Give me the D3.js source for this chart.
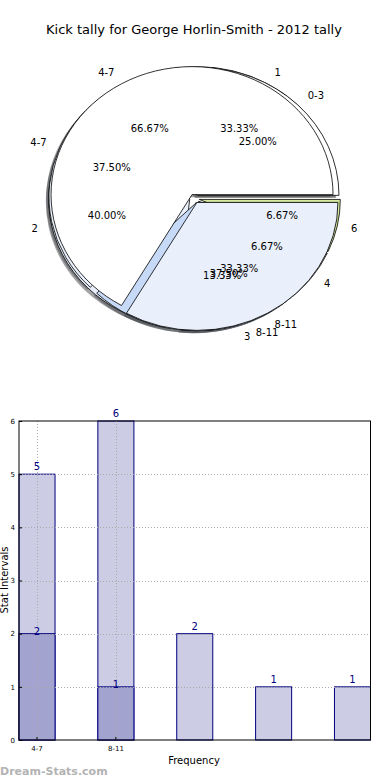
<!doctype html>
<html>
<head>
<meta charset="utf-8">
<script src="https://d3js.org/d3.v7.min.js"></script>
<style>
body {margin: 0; background: #fff;}
svg {display: block; font-family: "DejaVu Sans", sans-serif;}
</style>
</head>
<body>
<svg width="390" height="780" id="chart"></svg>
<script>
// pie data (three tallies drawn on top of each other)
var pieLabelsA = ["4-7", "8-11"];
var pieValuesA = [2, 1];
var pieLabelsB = ["1", "2", "3", "4", "6"];
var pieValuesB = [5, 6, 2, 1, 1];
var pieLabelsC = ["0-3", "4-7", "8-11"];
var pieValuesC = [2, 3, 3];
var sliceColors = ["#ffffff", "#eaf0fb", "#c6d9f7", "#f3e3c3", "#d4e89e"];

// bar data
var barTickLabels = ["4-7", "8-11", "", "", ""];
var barTotals = [5, 6, 2, 1, 1];
var barSubset = [2, 1];
var yTicks = [0, 1, 2, 3, 4, 5, 6];

var svg = d3.select("#chart");

svg.append("text")
  .attr("x", 194).attr("y", 34)
  .attr("text-anchor", "middle")
  .style("font-size", "13px")
  .text("Kick tally for George Horlin-Smith - 2012 tally");

/////////////////////////////////////////// pie
var cx = 194.5, cy = 198.5, rx = 141, ry = 128, explode = 0.035;

var pie = d3.pie().sort(null).startAngle(Math.PI / 2).endAngle(Math.PI / 2 - 2 * Math.PI);
var arc = d3.arc().innerRadius(0).outerRadius(rx);

function slices(labels, values) {
  var tot = d3.sum(values);
  return pie(values).map(function(d, i) {
    var a = (d.startAngle + d.endAngle) / 2;
    d.label = labels[i];
    d.pct = (100 * values[i] / tot).toFixed(2) + "%";
    d.color = sliceColors[i % sliceColors.length];
    d.ux = Math.sin(a);
    d.uy = -Math.cos(a);
    d.dx = explode * rx * d.ux;
    d.dy = explode * ry * d.uy;
    return d;
  });
}

var pies = [slices(pieLabelsB, pieValuesB), slices(pieLabelsC, pieValuesC), slices(pieLabelsA, pieValuesA)];
var all = [].concat.apply([], pies);

var sy = ry / rx;
var gShadow = svg.append("g");
var gWedge = svg.append("g");
var gText = svg.append("g").style("font-size", "10px");

// shadows go under every wedge
gShadow.selectAll("path").data(all).enter().append("path")
  .attr("d", arc)
  .attr("transform", function(d) {
    return "translate(" + (cx + d.dx - 0.02 * rx) + "," + (cy + d.dy + 0.02 * ry) + ") scale(1," + sy + ")";
  })
  .style("fill", function(d) { var c = d3.rgb(d.color); return d3.rgb(c.r * 0.3, c.g * 0.3, c.b * 0.3); })
  .style("opacity", 0.5);

pies.forEach(function(p) {
  gWedge.append("g").selectAll("path").data(p).enter().append("path")
    .attr("d", arc)
    .attr("transform", function(d) {
      return "translate(" + (cx + d.dx) + "," + (cy + d.dy) + ") scale(1," + sy + ")";
    })
    .attr("vector-effect", "non-scaling-stroke")
    .style("fill", function(d) { return d.color; })
    .style("stroke", "#000")
    .style("stroke-width", 0.8);
});

gText.selectAll("text.lab").data(all).enter().append("text")
  .attr("class", "lab")
  .attr("x", function(d) { return cx + d.dx + 1.1 * rx * d.ux; })
  .attr("y", function(d) { return cy + d.dy + 1.1 * ry * d.uy; })
  .attr("dy", "0.35em")
  .attr("text-anchor", function(d) { return d.ux > 0 ? "start" : "end"; })
  .text(function(d) { return d.label; });

gText.selectAll("text.pct").data(all).enter().append("text")
  .attr("class", "pct")
  .attr("x", function(d) { return cx + d.dx + 0.6 * rx * d.ux; })
  .attr("y", function(d) { return cy + d.dy + 0.6 * ry * d.uy; })
  .attr("dy", "0.35em")
  .attr("text-anchor", "middle")
  .text(function(d) { return d.pct; });

/////////////////////////////////////////// bars
var plotL = 19, plotR = 370.5, plotT = 421, plotB = 740;
var x = d3.scaleBand().domain(d3.range(barTotals.length)).range([plotL, plotR]).paddingInner(0.543).paddingOuter(0);
var y = d3.scaleLinear().domain([0, 6]).range([plotB, plotT]);
var navy = "#000080";

var gb = svg.append("g");

gb.selectAll("rect.tot").data(barTotals).enter().append("rect")
  .attr("class", "tot")
  .attr("x", function(d, i) { return x(i); })
  .attr("y", function(d) { return y(d); })
  .attr("width", x.bandwidth())
  .attr("height", function(d) { return y(0) - y(d); })
  .style("fill", "#ccccE4")
  .style("stroke", navy)
  .style("stroke-width", 1);

gb.selectAll("rect.sub").data(barSubset).enter().append("rect")
  .attr("class", "sub")
  .attr("x", function(d, i) { return x(i); })
  .attr("y", function(d) { return y(d); })
  .attr("width", x.bandwidth())
  .attr("height", function(d) { return y(0) - y(d); })
  .style("fill", "#a3a3cf")
  .style("stroke", navy)
  .style("stroke-width", 1);

// dotted grid
var grid = svg.append("g").style("stroke", "#aaa").style("stroke-dasharray", "1,2").style("stroke-width", 1);
grid.selectAll("line.h").data(yTicks.slice(1, -1)).enter().append("line")
  .attr("class", "h")
  .attr("x1", plotL).attr("x2", plotR)
  .attr("y1", function(d) { return Math.round(y(d)) + 0.5; })
  .attr("y2", function(d) { return Math.round(y(d)) + 0.5; });
grid.selectAll("line.v").data(barTickLabels.filter(function(t) { return t; })).enter().append("line")
  .attr("class", "v")
  .attr("x1", function(d, i) { return Math.round(x(i) + x.bandwidth() / 2) + 0.5; })
  .attr("x2", function(d, i) { return Math.round(x(i) + x.bandwidth() / 2) + 0.5; })
  .attr("y1", plotT).attr("y2", plotB);

svg.append("rect")
  .attr("x", plotL).attr("y", plotT)
  .attr("width", plotR - plotL).attr("height", plotB - plotT)
  .style("fill", "none").style("stroke", "#000").style("stroke-width", 1);

var yAxis = svg.append("g")
  .attr("transform", "translate(" + plotL + ",0)")
  .call(d3.axisLeft(y).tickValues(yTicks).tickFormat(d3.format("d")).tickSize(-3).tickPadding(4));
yAxis.select(".domain").remove();
yAxis.selectAll("text").style("font-size", "7px").style("font-family", "DejaVu Sans");

var xAxis = svg.append("g")
  .attr("transform", "translate(0," + plotB + ")")
  .call(d3.axisBottom(x).tickFormat(function(i) { return barTickLabels[i]; }).tickSize(-3).tickPadding(6));
xAxis.select(".domain").remove();
xAxis.selectAll(".tick").filter(function(i) { return !barTickLabels[i]; }).remove();
xAxis.selectAll("text").style("font-size", "7px").style("font-family", "DejaVu Sans");

// value labels
var gl = svg.append("g").style("font-size", "10px").style("fill", navy).attr("text-anchor", "middle");
gl.selectAll("text.tot").data(barTotals).enter().append("text")
  .attr("class", "tot")
  .attr("x", function(d, i) { return x(i) + x.bandwidth() / 2; })
  .attr("y", function(d) { return y(d) - 4; })
  .text(function(d) { return d; });
gl.selectAll("text.sub").data(barSubset).enter().append("text")
  .attr("class", "sub")
  .attr("x", function(d, i) { return x(i) + x.bandwidth() / 2; })
  .attr("y", function(d) { return y(d) + 1; })
  .text(function(d) { return d; });

svg.append("text")
  .attr("x", 194).attr("y", 764)
  .attr("text-anchor", "middle")
  .style("font-size", "10px")
  .text("Frequency");

svg.append("text")
  .attr("transform", "translate(8,580) rotate(-90)")
  .attr("text-anchor", "middle")
  .style("font-size", "10px")
  .text("Stat Intervals");

svg.append("text")
  .attr("x", 0).attr("y", 775)
  .style("font-size", "11px")
  .style("font-weight", "bold")
  .style("fill", "#b3b3b3")
  .text("Dream-Stats.com");
</script>
</body>
</html>
